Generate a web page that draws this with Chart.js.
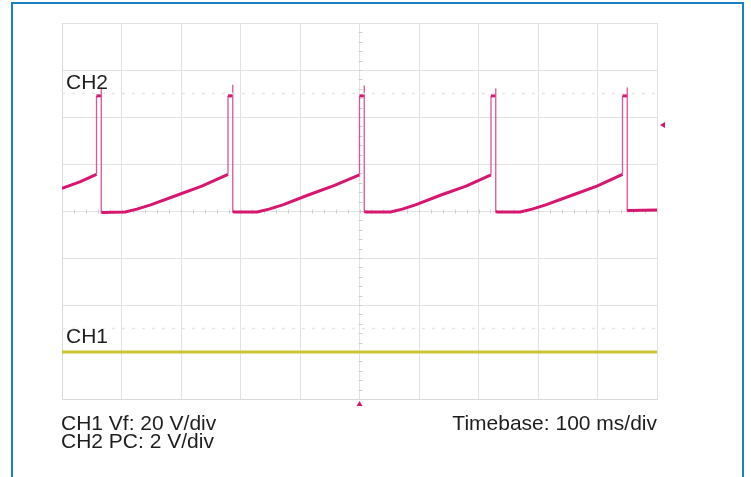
<!DOCTYPE html>
<html>
<head>
<meta charset="utf-8">
<script src="https://cdn.jsdelivr.net/npm/chart.js@4.4.1/dist/chart.umd.min.js"></script>
<style>
  body { margin: 0; background: #fff; }
  #wrap { position: relative; width: 751px; height: 477px; overflow: hidden; }
  #frame {
    position: absolute; left: 11px; top: 2px; width: 729px; height: 500px;
    border: 2px solid #1b80c1;
  }
  .lbl {
    position: absolute; font-family: "Liberation Sans", Arial, sans-serif;
    font-size: 21px; line-height: 20px; color: #1e1e1e; white-space: nowrap;
  }
</style>
</head>
<body>
<div id="wrap">
  <div id="frame"></div>
  <canvas id="scope" width="751" height="477"></canvas>
  <div class="lbl" style="left:66px; top:72px;">CH2</div>
  <div class="lbl" style="left:66px; top:326px;">CH1</div>
  <div class="lbl" style="left:61px; top:413px;">CH1 Vf: 20 V/div</div>
  <div class="lbl" style="left:61px; top:431px;">CH2 PC: 2 V/div</div>
  <div class="lbl" style="right:94px; top:413px;">Timebase: 100 ms/div</div>
</div>
<script>
// screen is 10 x 8 divisions, values below are in divisions (x: 100 ms/div)
const xDivs = [0, 1, 2, 3, 4, 5, 6, 7, 8, 9, 10];
const yDivs = [-4, -3, -2, -1, 0, 1, 2, 3, 4];

// CH2 (PC, 2 V/div) - sawtooth with a short pulse on every reset
const ch2X = [
  0, 0.30, 0.58, 0.58, 0.66, 0.66, 0.66,
  0.68, 1.06, 1.26, 1.49, 1.92, 2.35, 2.79, 2.79, 2.87, 2.87, 2.87,
  2.89, 3.28, 3.48, 3.71, 4.14, 4.57, 5.00, 5.00, 5.08, 5.08, 5.08,
  5.10, 5.52, 5.72, 5.94, 6.37, 6.79, 7.21, 7.21, 7.29, 7.29, 7.29,
  7.31, 7.70, 7.90, 8.13, 8.56, 8.99, 9.42, 9.42, 9.50, 9.50, 9.50,
  9.52, 10
];
const ch2Y = [
  0.48, 0.62, 0.78, 2.45, 2.45, 2.62, -0.02,
  -0.03, -0.02, 0.04, 0.13, 0.33, 0.53, 0.78, 2.45, 2.45, 2.68, -0.01,
  -0.02, -0.02, 0.04, 0.13, 0.34, 0.54, 0.77, 2.45, 2.45, 2.66, -0.01,
  -0.02, -0.02, 0.04, 0.13, 0.34, 0.53, 0.77, 2.45, 2.45, 2.60, -0.01,
  -0.02, -0.02, 0.04, 0.13, 0.33, 0.53, 0.78, 2.45, 2.45, 2.62, 0.0,
  0.01, 0.02
];

// CH1 (Vf, 20 V/div) - flat
const ch1X = [0, 2.5, 5, 7.5, 10];
const ch1Y = [-3.0, -3.0, -3.0, -3.0, -3.0];

// faint reference lines
const refLevels = [2.5, -2.5];

// trigger markers: level on the right edge, position at the bottom
const trigLevel = 1.83;
const trigPos = 5;

const toPts = (xs, ys) => xs.map((x, i) => ({ x: x, y: ys[i] }));

// small ticks along the two centre lines + the trigger arrows outside the screen
const scopeMarks = {
  id: "scopeMarks",
  beforeDatasetsDraw(chart) {
    const { ctx, scales } = chart;
    const x = scales.x, y = scales.y;
    ctx.save();
    ctx.strokeStyle = "#cfcfcf";
    ctx.lineWidth = 1;
    ctx.beginPath();
    const cy = Math.round(y.getPixelForValue(0)) + 0.5;
    for (let v = 0.2; v < 10; v += 0.2) {
      const px = Math.round(x.getPixelForValue(v)) + 0.5;
      ctx.moveTo(px, cy - 2);
      ctx.lineTo(px, cy + 2);
    }
    const cx = Math.round(x.getPixelForValue(5)) + 0.5;
    for (let v = -3.8; v < 4; v += 0.2) {
      const py = Math.round(y.getPixelForValue(v)) + 0.5;
      ctx.moveTo(cx - 2, py);
      ctx.lineTo(cx + 2, py);
    }
    ctx.stroke();
    ctx.restore();
  },
  afterDraw(chart) {
    const { ctx, scales, chartArea } = chart;
    ctx.save();
    ctx.fillStyle = "#d6166f";
    // level arrow, pointing left
    const ly = scales.y.getPixelForValue(trigLevel);
    const lx = chartArea.right + 3;
    ctx.beginPath();
    ctx.moveTo(lx, ly);
    ctx.lineTo(lx + 5, ly - 3);
    ctx.lineTo(lx + 5, ly + 3);
    ctx.closePath();
    ctx.fill();
    // position arrow, pointing up
    const px = scales.x.getPixelForValue(trigPos);
    const py = chartArea.bottom + 2;
    ctx.beginPath();
    ctx.moveTo(px, py);
    ctx.lineTo(px + 3, py + 5);
    ctx.lineTo(px - 3, py + 5);
    ctx.closePath();
    ctx.fill();
    ctx.restore();
  },
};

const isVertical = (c) => c.p0.parsed.x === c.p1.parsed.x;

new Chart(document.getElementById("scope"), {
  type: "scatter",
  data: {
    datasets: [
      ...refLevels.map((lv) => ({
        data: toPts([0, 10], [lv, lv]),
        showLine: true,
        borderColor: "#e6e6e6",
        borderWidth: 1.5,
        borderDash: [3, 7],
        pointRadius: 0,
      })),
      {
        label: "CH1",
        data: toPts(ch1X, ch1Y),
        showLine: true,
        borderColor: "#ccc634",
        borderWidth: 3,
        pointRadius: 0,
      },
      {
        label: "CH2",
        data: toPts(ch2X, ch2Y),
        showLine: true,
        borderColor: "#d6166f",
        borderWidth: 3,
        borderJoinStyle: "round",
        pointRadius: 0,
        segment: {
          borderWidth: (c) => (isVertical(c) ? 1.3 : 3),
          borderColor: (c) => (isVertical(c) ? "#d9559a" : "#d6166f"),
        },
      },
    ],
  },
  options: {
    responsive: false,
    devicePixelRatio: 1,
    animation: false,
    events: [],
    layout: { padding: { left: 62, top: 23, right: 94, bottom: 78 } },
    plugins: { legend: { display: false }, tooltip: { enabled: false } },
    scales: {
      x: {
        type: "linear",
        min: xDivs[0],
        max: xDivs[xDivs.length - 1],
        afterBuildTicks: (s) => { s.ticks = xDivs.map((v) => ({ value: v })); },
        ticks: { display: false },
        grid: { color: "#e2e2e2", drawTicks: false, lineWidth: 1 },
        border: { color: "#dadada" },
      },
      y: {
        type: "linear",
        min: yDivs[0],
        max: yDivs[yDivs.length - 1],
        afterBuildTicks: (s) => { s.ticks = yDivs.map((v) => ({ value: v })); },
        ticks: { display: false },
        grid: { color: "#e2e2e2", drawTicks: false, lineWidth: 1 },
        border: { color: "#dadada" },
      },
    },
  },
  plugins: [scopeMarks],
});
</script>
</body>
</html>
